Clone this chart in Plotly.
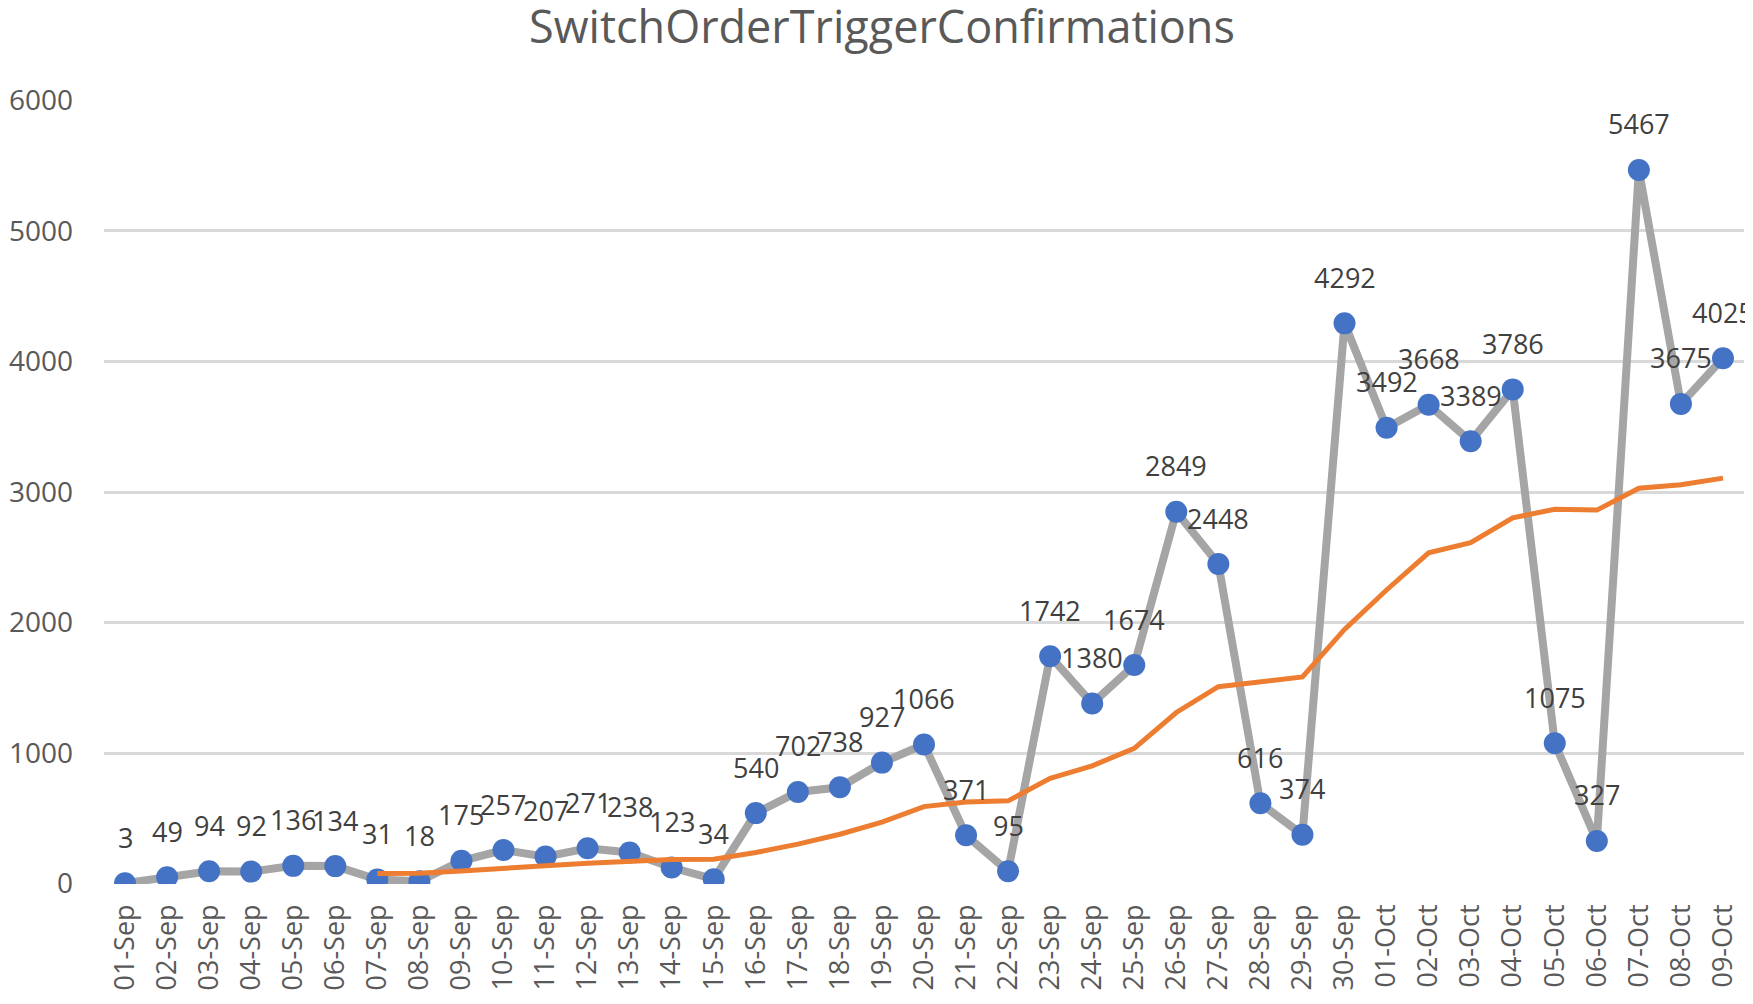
import plotly.graph_objects as go

dates = ["01-Sep", "02-Sep", "03-Sep", "04-Sep", "05-Sep", "06-Sep", "07-Sep", "08-Sep",
         "09-Sep", "10-Sep", "11-Sep", "12-Sep", "13-Sep", "14-Sep", "15-Sep", "16-Sep",
         "17-Sep", "18-Sep", "19-Sep", "20-Sep", "21-Sep", "22-Sep", "23-Sep", "24-Sep",
         "25-Sep", "26-Sep", "27-Sep", "28-Sep", "29-Sep", "30-Sep", "01-Oct", "02-Oct",
         "03-Oct", "04-Oct", "05-Oct", "06-Oct", "07-Oct", "08-Oct", "09-Oct"]

confirmations = [3, 49, 94, 92, 136, 134, 31, 18, 175, 257, 207, 271, 238, 123, 34, 540,
                 702, 738, 927, 1066, 371, 95, 1742, 1380, 1674, 2849, 2448, 616, 374, 4292,
                 3492, 3668, 3389, 3786, 1075, 327, 5467, 3675, 4025]

# 7-period moving average trendline (starts at 07-Sep)
trend_dates = dates[6:]
trend_values = [77.0, 79.1, 97.1, 120.4, 136.9, 156.1, 171.0, 184.1, 186.4, 238.6, 302.1,
                378.0, 471.7, 590.0, 625.4, 634.1, 805.9, 902.7, 1036.4, 1311.0, 1508.4,
                1543.4, 1583.3, 1947.6, 2249.3, 2534.1, 2611.3, 2802.4, 2868.0, 2861.3,
                3029.1, 3055.3, 3106.3]

y_ticks = [0, 1000, 2000, 3000, 4000, 5000, 6000]

FONT = "Open Sans"
TXT = "#595959"

# page body has an 8px margin; figure is sized so the plot lands where the reference has it
W, H = 1745, 996

fig = go.Figure()
fig.add_trace(go.Scatter(
    x=dates, y=confirmations, mode="lines+markers",
    line=dict(color="#A5A5A5", width=8),
    marker=dict(color="#4472C4", size=22),
    showlegend=False, hoverinfo="x+y",
))
fig.add_trace(go.Scatter(
    x=trend_dates, y=trend_values, mode="lines",
    line=dict(color="#ED7D31", width=5),
    showlegend=False, hoverinfo="x+y",
))

for d, v in zip(dates, confirmations):
    fig.add_annotation(x=d, y=v, text=str(v), showarrow=False, yshift=46,
                       xanchor="center", yanchor="middle",
                       font=dict(family=FONT, size=27, color="#404040"))

fig.update_layout(
    width=W, height=H,
    margin=dict(l=96, r=9, t=92, b=120, autoexpand=False),
    paper_bgcolor="white", plot_bgcolor="white",
    title=dict(text="SwitchOrderTriggerConfirmations", x=874 / W, xref="container",
               xanchor="center", y=1 - 19 / H, yref="container", yanchor="middle",
               font=dict(family=FONT, size=45, color=TXT)),
    font=dict(family=FONT, color=TXT),
)
fig.update_xaxes(
    type="category", categoryorder="array", categoryarray=dates,
    range=[-0.5, len(dates) - 0.5], showgrid=False, zeroline=False,
    tickangle=-90, tickfont=dict(family=FONT, size=27, color=TXT),
    ticks="", ticklabelstandoff=14, automargin=False,
)
fig.update_yaxes(
    range=[-3, 6003], tickvals=y_ticks, ticktext=[str(t) for t in y_ticks],
    showgrid=True, gridcolor="#D9D9D9", gridwidth=3, zeroline=False,
    tickfont=dict(family=FONT, size=28, color=TXT), ticks="", ticklabelstandoff=30,
    automargin=False,
)

fig.write_html("out.html")
